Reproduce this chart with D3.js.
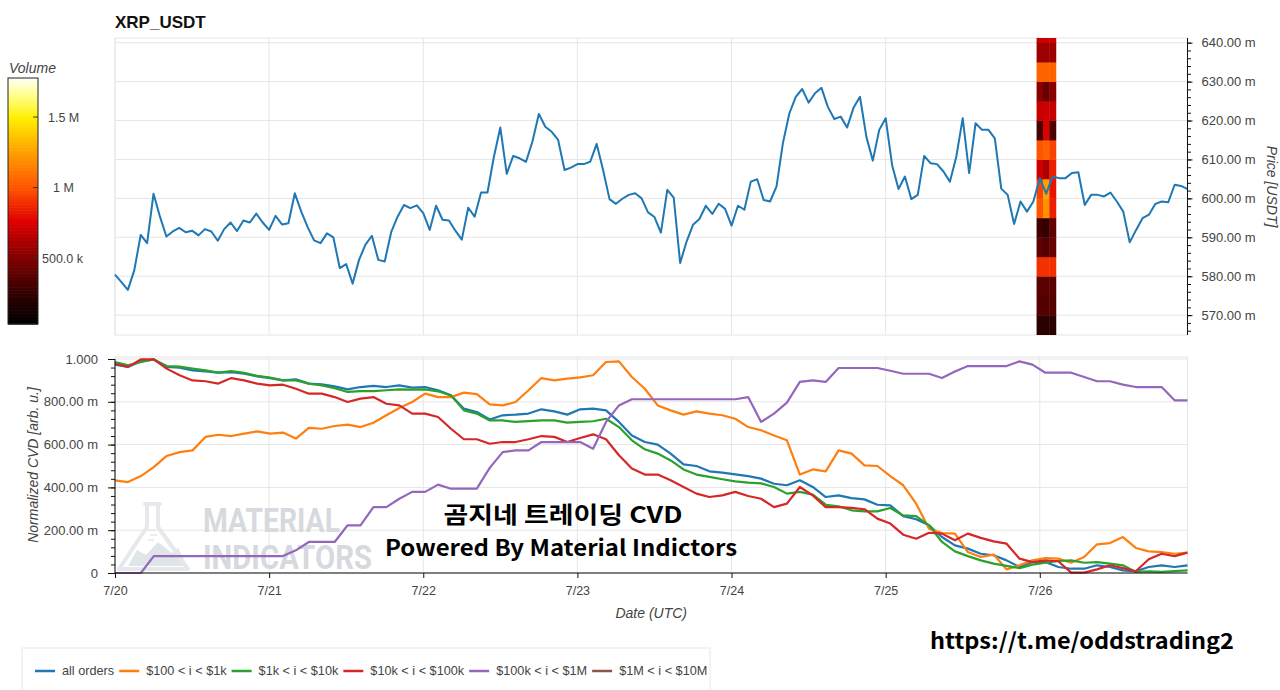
<!DOCTYPE html>
<html><head><meta charset="utf-8">
<script src="https://cdn.jsdelivr.net/npm/d3@7"></script>
<style>
body{margin:0;background:#fff;}
svg{display:block;font-family:"Liberation Sans",Arial,sans-serif;}
</style>
</head><body>
<svg id="chart" width="1280" height="690"></svg>
<script>
// ---------------- DATA ----------------
const symbol = "XRP_USDT";
// hourly close price (USDT) from 7/20 00:00 UTC
const priceHourly = [0.5804,0.5785,0.5765,0.5815,0.5906,0.5885,0.6012,0.5953,0.5902,0.5915,
0.5924,0.5913,0.5917,0.5905,0.5921,0.5915,0.5891,0.5921,0.5938,0.5916,
0.5943,0.5938,0.5961,0.5938,0.5919,0.5955,0.5933,0.5936,0.6013,0.5966,
0.5926,0.5892,0.5885,0.5910,0.5900,0.5821,0.5831,0.5781,0.5842,0.5881,
0.5904,0.5842,0.5838,0.5913,0.5953,0.5983,0.5975,0.5982,0.5962,0.5919,
0.5981,0.5945,0.5943,0.5917,0.5894,0.5976,0.5953,0.6015,0.6015,0.6107,
0.6182,0.6063,0.6109,0.6103,0.6094,0.6146,0.6217,0.6184,0.6171,0.6150,
0.6073,0.6079,0.6088,0.6088,0.6094,0.6140,0.6073,0.5998,0.5986,0.5999,
0.6009,0.6013,0.6000,0.5964,0.5952,0.5912,0.6022,0.6002,0.5834,0.5889,
0.5932,0.5947,0.5981,0.5960,0.5986,0.5973,0.5930,0.5981,0.5971,0.6043,
0.6049,0.5996,0.5992,0.6030,0.6142,0.6218,0.6261,0.6281,0.6246,0.6270,
0.6284,0.6235,0.6204,0.6210,0.6182,0.6233,0.6261,0.6158,0.6097,0.6176,
0.6206,0.6086,0.6024,0.6056,0.5998,0.6009,0.6109,0.6090,0.6088,0.6069,
0.6043,0.6107,0.6206,0.6065,0.6193,0.6176,0.6176,0.6154,0.6025,0.6009,
0.5934,0.5992,0.5966,0.5992,0.6052,0.6012,0.6056,0.6052,0.6052,0.6065,
0.6067,0.5983,0.6009,0.6009,0.6005,0.6015,0.5992,0.5966,0.5887,0.5919,
0.5949,0.5958,0.5986,0.5992,0.5990,0.6035,0.6032,0.6024];

// normalized CVD, sampled evenly over the same period
const cvdAll = [0.974,0.963,0.989,0.998,0.963,0.960,0.947,0.942,0.936,0.939,
0.931,0.919,0.911,0.900,0.905,0.885,0.882,0.872,0.858,0.869,
0.874,0.869,0.877,0.866,0.869,0.854,0.830,0.768,0.752,0.717,
0.737,0.740,0.745,0.765,0.755,0.740,0.765,0.768,0.760,0.706,
0.643,0.612,0.600,0.558,0.508,0.500,0.475,0.469,0.461,0.453,
0.441,0.417,0.410,0.433,0.402,0.355,0.363,0.350,0.344,0.319,
0.316,0.266,0.251,0.223,0.168,0.129,0.114,0.090,0.083,0.059,
0.028,0.051,0.051,0.028,0.020,0.020,0.036,0.028,0.012,0.008,
0.028,0.036,0.028,0.036];
const cvd100to1k = [0.433,0.425,0.453,0.495,0.547,0.565,0.573,0.636,0.646,0.640,
0.651,0.662,0.651,0.656,0.628,0.678,0.674,0.687,0.693,0.682,
0.702,0.737,0.771,0.799,0.838,0.822,0.822,0.843,0.836,0.788,
0.783,0.799,0.854,0.911,0.900,0.908,0.914,0.924,0.986,0.989,
0.916,0.861,0.783,0.760,0.740,0.755,0.745,0.737,0.721,0.682,
0.667,0.643,0.620,0.460,0.484,0.475,0.573,0.558,0.503,0.500,
0.453,0.410,0.324,0.207,0.187,0.184,0.098,0.075,0.086,0.017,
0.036,0.059,0.070,0.067,0.048,0.075,0.134,0.140,0.168,0.117,
0.101,0.098,0.090,0.095];
const cvd1kto10k = [0.986,0.970,0.986,0.998,0.967,0.964,0.955,0.947,0.936,0.944,
0.935,0.921,0.913,0.900,0.900,0.885,0.877,0.864,0.846,0.850,
0.850,0.854,0.858,0.857,0.858,0.849,0.830,0.760,0.745,0.713,
0.713,0.706,0.710,0.713,0.713,0.703,0.706,0.709,0.721,0.682,
0.620,0.578,0.558,0.526,0.484,0.460,0.449,0.438,0.428,0.422,
0.419,0.402,0.371,0.379,0.366,0.319,0.312,0.293,0.288,0.288,
0.304,0.269,0.266,0.223,0.145,0.101,0.079,0.059,0.044,0.033,
0.023,0.039,0.048,0.056,0.059,0.048,0.051,0.044,0.036,0.005,
0.008,0.005,0.009,0.012];
const cvd10kto100k = [0.978,0.963,0.998,0.998,0.955,0.924,0.900,0.896,0.885,0.911,
0.900,0.885,0.877,0.880,0.861,0.838,0.838,0.822,0.799,0.815,
0.822,0.791,0.783,0.745,0.745,0.729,0.674,0.625,0.625,0.604,
0.612,0.612,0.625,0.640,0.636,0.612,0.631,0.648,0.625,0.550,
0.488,0.460,0.460,0.433,0.402,0.371,0.355,0.363,0.379,0.360,
0.347,0.308,0.324,0.402,0.363,0.308,0.308,0.304,0.298,0.254,
0.231,0.179,0.160,0.188,0.184,0.153,0.184,0.164,0.148,0.137,
0.067,0.051,0.059,0.055,0.002,0.002,0.017,0.036,0.023,0.008,
0.064,0.090,0.079,0.095];
const cvd100kto1M = [0,0,0,0.079,0.079,0.079,0.079,0.079,0.079,0.079,
0.079,0.079,0.079,0.079,0.106,0.145,0.145,0.145,0.223,0.223,
0.308,0.308,0.347,0.379,0.379,0.413,0.394,0.394,0.394,0.491,
0.565,0.573,0.573,0.612,0.612,0.612,0.612,0.581,0.706,0.783,
0.812,0.812,0.812,0.812,0.812,0.812,0.812,0.812,0.812,0.822,
0.706,0.745,0.796,0.893,0.900,0.893,0.958,0.958,0.958,0.958,
0.945,0.931,0.931,0.931,0.911,0.942,0.967,0.967,0.967,0.967,
0.989,0.974,0.936,0.936,0.936,0.916,0.896,0.896,0.880,0.869,
0.869,0.869,0.807,0.807];
const cvd1Mto10M = [];

const seriesNames = ["all orders","$100 < i < $1k","$1k < i < $10k","$10k < i < $100k","$100k < i < $1M","$1M < i < $10M"];
const seriesColors = ["#1f77b4","#ff7f0e","#2ca02c","#d62728","#9467bd","#8c564b"];

// volume heatmap (price bins of 0.005 USDT, hourly columns)
const heatHours = [144,145,146];
const heatBinLow = [0.565,0.570,0.575,0.580,0.585,0.590,0.595,0.600,0.605,0.610,0.615,0.620,0.625,0.630,0.635,0.640];
const heatVol144 = [230e3,360e3,380e3,900e3,400e3,300e3,1000e3,950e3,720e3,1000e3,320e3,700e3,520e3,1050e3,580e3,700e3];
const heatVol145 = [230e3,360e3,380e3,900e3,360e3,260e3,1200e3,1250e3,620e3,1050e3,760e3,720e3,420e3,1050e3,580e3,700e3];
const heatVol146 = [230e3,360e3,380e3,900e3,420e3,400e3,850e3,820e3,850e3,950e3,340e3,680e3,520e3,1050e3,580e3,700e3];

const priceTicks = [0.57,0.58,0.59,0.60,0.61,0.62,0.63,0.64];
const cvdTicks = [0,0.2,0.4,0.6,0.8,1.0];
const volTicks = [500e3,1e6,1.5e6];
const volTickLabels = ["500.0 k","1 M","1.5 M"];
const dayTickLabels = ["7/20","7/21","7/22","7/23","7/24","7/25","7/26"];

// ---------------- LAYOUT ----------------
const svg = d3.select("#chart");
const HOUR = 3600e3;
const t0 = Date.UTC(2024,6,20);
const TOP = {l:115, r:1187.5, t:38, b:335};
const BOT = {l:115, r:1187.5, t:357, b:573};
const x = d3.scaleUtc().domain([new Date(t0), new Date(t0+167*HOUR)]).range([TOP.l, TOP.r]);
const yP = d3.scaleLinear().domain([0.5649,0.6412]).range([TOP.b, TOP.t]);
const yC = d3.scaleLinear().domain([0,1]).range([BOT.b, 359]);
const volDomain = [32e3, 1.777e6];
const yV = d3.scaleLinear().domain(volDomain).range([324,78]);
const stops = [0,0.12,0.27,0.42,0.55,0.70,0.84,0.93,1];
const stopCols = ["#000000","#2e0000","#820000","#e00000","#ff5200","#ffa000","#fff000","#ffff8a","#fffff5"];
const vol = d3.scaleLinear().domain(stops.map(s=>volDomain[0]+s*(volDomain[1]-volDomain[0]))).range(stopCols).clamp(true);
const dayDates = dayTickLabels.map((_,i)=>new Date(t0+i*24*HOUR));
const gridCol = "#e6e6e6", txtCol = "#444";

svg.append("rect").attr("width",1280).attr("height",690).attr("fill","#fff");

// title
svg.append("text").attr("x",115).attr("y",28).attr("font-size",17).attr("font-weight","bold").attr("fill","#111").text(symbol);

// ---------- colour bar ----------
const cb = svg.append("g");
const nBands = 160;
d3.range(nBands).forEach(i=>{
  const v0 = volDomain[0] + (volDomain[1]-volDomain[0])*i/nBands;
  const v1 = volDomain[0] + (volDomain[1]-volDomain[0])*(i+1)/nBands;
  cb.append("rect").attr("x",8).attr("width",30).attr("y",yV(v1)).attr("height",yV(v0)-yV(v1)+0.6).attr("fill",vol((v0+v1)/2));
});
cb.append("rect").attr("x",8).attr("y",78).attr("width",30).attr("height",246).attr("fill","none").attr("stroke","#222").attr("stroke-width",1);
volTicks.forEach((v,i)=>{
  cb.append("line").attr("x1",33).attr("x2",38).attr("y1",yV(v)).attr("y2",yV(v)).attr("stroke","#333");
  cb.append("text").attr("x",i===1?53:(i===0?42:48)).attr("y",yV(v)+4.5).attr("font-size",12.5).attr("fill",txtCol).text(volTickLabels[i]);
});
svg.append("text").attr("x",9).attr("y",73).attr("font-size",14).attr("font-style","italic").attr("fill",txtCol).text("Volume");

// ---------- top panel ----------
const topG = svg.append("g");
topG.append("rect").attr("x",TOP.l).attr("y",TOP.t).attr("width",TOP.r-TOP.l).attr("height",TOP.b-TOP.t).attr("fill","none").attr("stroke",gridCol);
priceTicks.forEach(p=>topG.append("line").attr("x1",TOP.l).attr("x2",TOP.r).attr("y1",yP(p)).attr("y2",yP(p)).attr("stroke",gridCol));
dayDates.forEach(d=>topG.append("line").attr("x1",x(d)).attr("x2",x(d)).attr("y1",TOP.t).attr("y2",TOP.b).attr("stroke",gridCol));

// heatmap
const heatCols = [heatVol144, heatVol145, heatVol146];
heatCols.forEach((col,ci)=>{
  const h = heatHours[ci];
  const xa = x(new Date(t0+(h-0.5)*HOUR)), xb = x(new Date(t0+(h+0.5)*HOUR));
  col.forEach((v,bi)=>{
    const lo = heatBinLow[bi], hi = Math.min(lo+0.005, yP.domain()[1]);
    topG.append("rect").attr("x",xa).attr("width",xb-xa+0.4)
      .attr("y",yP(hi)).attr("height",yP(lo)-yP(hi)+0.4).attr("fill",vol(v));
  });
});

// price line
topG.append("path").datum(priceHourly).attr("fill","none").attr("stroke","#1f77b4").attr("stroke-width",2).attr("stroke-linejoin","round")
  .attr("d",d3.line().x((d,i)=>x(new Date(t0+i*HOUR))).y(d=>yP(d)));

// right axis
const fmtMilli = v => (v*1000).toFixed(2)+" m";
const ra = topG.append("g").attr("transform",`translate(${TOP.r},0)`);
ra.call(d3.axisRight(yP).tickValues(priceTicks).tickFormat(fmtMilli).tickSize(5).tickPadding(9));
ra.select(".domain").remove();
const raMinor = topG.append("g").attr("transform",`translate(${TOP.r},0)`);
raMinor.call(d3.axisRight(yP).tickValues(d3.range(566,642,2).map(v=>v/1000)).tickFormat("").tickSize(3.5));
raMinor.select(".domain").remove();
topG.append("line").attr("x1",TOP.r).attr("x2",TOP.r).attr("y1",TOP.t).attr("y2",TOP.b).attr("stroke","#111");
ra.selectAll("text").attr("font-size",13).attr("fill",txtCol).attr("font-family","Liberation Sans, Arial, sans-serif");
topG.selectAll(".tick line").attr("stroke","#111");
svg.append("text").attr("transform",`translate(1267,${(TOP.t+TOP.b)/2}) rotate(90)`).attr("text-anchor","middle")
  .attr("font-size",14).attr("font-style","italic").attr("fill",txtCol).text("Price [USDT]");

// ---------- bottom panel ----------
const botG = svg.append("g");
botG.append("rect").attr("x",BOT.l).attr("y",BOT.t).attr("width",BOT.r-BOT.l).attr("height",BOT.b-BOT.t).attr("fill","none").attr("stroke",gridCol);
cvdTicks.forEach(v=>botG.append("line").attr("x1",BOT.l).attr("x2",BOT.r).attr("y1",yC(v)).attr("y2",yC(v)).attr("stroke",gridCol));
dayDates.forEach(d=>botG.append("line").attr("x1",x(d)).attr("x2",x(d)).attr("y1",BOT.t).attr("y2",BOT.b).attr("stroke",gridCol));

// watermark
const wm = botG.append("g");
wm.append("path").attr("d","M128,566 L137,550 L146,555 L158,542 L172,553 L178,548 L187,566 Z").attr("fill","#dfe5e8");
wm.append("path").attr("d","M145,504 L160,504 M147,505 L147,527 L119,569 L188,569 L158,527 L158,505")
  .attr("fill","none").attr("stroke","#e6e8eb").attr("stroke-width",4).attr("stroke-linejoin","round").attr("stroke-linecap","round");
wm.append("path").attr("d","M148,530 L155,530 M150,535 L157,535 M148,540 L154,540").attr("stroke","#e6e8eb").attr("stroke-width",1.5);
wm.append("text").attr("transform","translate(203,532) scale(1,1.17)").attr("font-size",28).attr("font-weight","bold").attr("font-family","Liberation Sans Narrow, Roboto, sans-serif")
  .attr("fill","#d6d9de").attr("textLength",137).attr("lengthAdjust","spacingAndGlyphs").text("MATERIAL");
wm.append("text").attr("transform","translate(203,569) scale(1,1.17)").attr("font-size",28).attr("font-weight","bold").attr("font-family","Liberation Sans Narrow, Roboto, sans-serif")
  .attr("fill","#d6d9de").attr("textLength",169).attr("lengthAdjust","spacingAndGlyphs").text("INDICATORS");

// CVD lines
const cvdSeries = [cvdAll, cvd100to1k, cvd1kto10k, cvd10kto100k, cvd100kto1M, cvd1Mto10M];
cvdSeries.forEach((s,k)=>{
  if(!s.length) return;
  const step = 167/(s.length-1);
  botG.append("path").datum(s).attr("fill","none").attr("stroke",seriesColors[k]).attr("stroke-width",2.2).attr("stroke-linejoin","round")
    .attr("d",d3.line().x((d,i)=>x(new Date(t0+i*step*HOUR))).y(d=>yC(d)));
});

// left axis
const fmtC = v => v===0 ? "0" : (v===1 ? "1.000" : (v*1000).toFixed(2)+" m");
const la = botG.append("g").attr("transform",`translate(${BOT.l},0)`);
la.call(d3.axisLeft(yC).tickValues(cvdTicks).tickFormat(fmtC).tickSize(7).tickPadding(10));
la.select(".domain").remove();
const laMinor = botG.append("g").attr("transform",`translate(${BOT.l},0)`);
laMinor.call(d3.axisLeft(yC).tickValues(d3.range(0,26).map(v=>v*0.04)).tickFormat("").tickSize(4));
laMinor.select(".domain").remove();
botG.append("line").attr("x1",BOT.l).attr("x2",BOT.l).attr("y1",359).attr("y2",BOT.b).attr("stroke","#111");
la.selectAll("text").attr("font-size",13).attr("fill",txtCol).attr("font-family","Liberation Sans, Arial, sans-serif");

// bottom axis
const ba = botG.append("g").attr("transform",`translate(0,${BOT.b})`);
ba.call(d3.axisBottom(x).tickValues(dayDates).tickFormat((d,i)=>dayTickLabels[i]).tickSize(5).tickPadding(8));
ba.select(".domain").remove();
botG.append("line").attr("x1",BOT.l).attr("x2",BOT.r).attr("y1",BOT.b).attr("y2",BOT.b).attr("stroke","#111");
ba.selectAll("text").attr("font-size",12.5).attr("fill",txtCol).attr("font-family","Liberation Sans, Arial, sans-serif");
botG.selectAll(".tick line").attr("stroke","#111");

svg.append("text").attr("transform",`translate(38,${(BOT.t+BOT.b)/2}) rotate(-90)`).attr("text-anchor","middle")
  .attr("font-size",14).attr("font-style","italic").attr("fill",txtCol).text("Normalized CVD [arb. u.]");
svg.append("text").attr("x",(BOT.l+BOT.r)/2).attr("y",618).attr("text-anchor","middle")
  .attr("font-size",14).attr("font-style","italic").attr("fill",txtCol).text("Date (UTC)");

// overlay texts
svg.append("text").attr("x",563).attr("y",523).attr("text-anchor","middle").attr("font-family","Noto Sans CJK KR, sans-serif")
  .attr("font-weight","bold").attr("font-size",23).attr("fill","#000").attr("textLength",239).attr("lengthAdjust","spacingAndGlyphs").text("곰지네 트레이딩 CVD");
svg.append("text").attr("x",561).attr("y",556).attr("text-anchor","middle").attr("font-family","Noto Sans CJK KR, sans-serif")
  .attr("font-weight","bold").attr("font-size",22).attr("fill","#000").attr("textLength",352).attr("lengthAdjust","spacingAndGlyphs").text("Powered By Material Indictors");
svg.append("text").attr("x",930).attr("y",649).attr("font-family","Noto Sans CJK KR, sans-serif")
  .attr("font-weight","bold").attr("font-size",22).attr("fill","#000").attr("textLength",304).attr("lengthAdjust","spacingAndGlyphs").text("https://t.me/oddstrading2");

// ---------- legend ----------
const lg = svg.append("g");
lg.append("rect").attr("x",22).attr("y",648).attr("width",688).attr("height",60).attr("fill","#fff").attr("stroke","#e8e8e8");
let lx = 35;
seriesNames.forEach((n,k)=>{
  lg.append("line").attr("x1",lx).attr("x2",lx+20).attr("y1",671).attr("y2",671).attr("stroke",seriesColors[k]).attr("stroke-width",2.5);
  const t = lg.append("text").attr("x",lx+27).attr("y",675).attr("font-size",12.7).attr("fill",txtCol).text(n);
  lx += 27 + t.node().getComputedTextLength() + 5;
});
</script>
</body></html>
